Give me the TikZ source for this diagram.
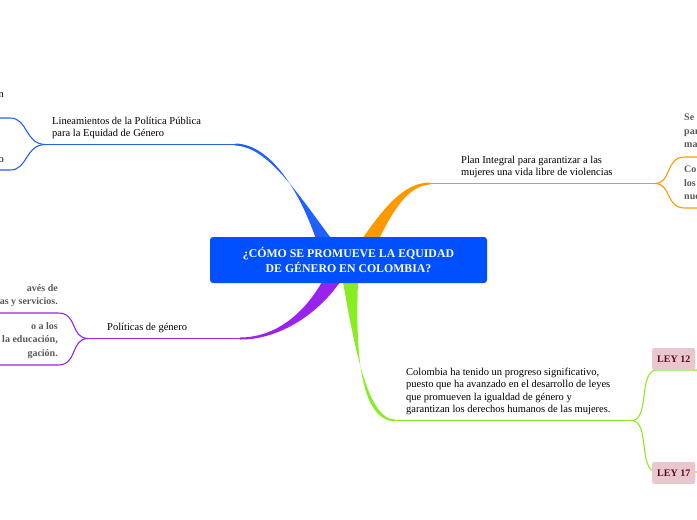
\documentclass[tikz,border=0pt]{standalone}
\usepackage{fontspec}
\setmainfont{Liberation Serif}
\begin{document}
\begin{tikzpicture}[x=1pt,y=-1pt,
  lbl/.style={font=\fontsize{10.5}{12.5}\selectfont,align=left,inner sep=0pt},
  cut/.style={lbl,font=\bfseries\fontsize{10}{13.5}\selectfont,text=black!65},
  ley/.style={fill={rgb,255:red,232;green,200;blue,206},rounded corners=2pt,font=\bfseries\fontsize{10}{11}\selectfont,text={rgb,255:red,90;green,10;blue,30},inner sep=5pt,minimum height=22pt,anchor=west}]
\useasboundingbox (0,0) rectangle (697,520);
\clip (0,0) rectangle (697,520);
\definecolor{cb}{HTML}{2060FF}\definecolor{co}{HTML}{FF9900}
\definecolor{cg}{HTML}{88EE22}\definecolor{cp}{HTML}{9922EE}
\tikzset{br/.style={line width=1.1pt}}
% blue
\fill[cb] (318,245) .. controls (300,190) and (270,144) .. (235,143.5) -- (235,145.5) .. controls (268,147) and (295,190) .. (336,245) -- cycle;
\draw[cb,br] (235,144.5) -- (45,144.5) coordinate (bj);
\draw[cb,br] (bj) .. controls (25,144) and (28,118) .. (10,118) -- (0,118);
\draw[cb,br] (bj) .. controls (25,145) and (28,170) .. (10,170) -- (0,170);
% orange
\fill[co] (358,245) .. controls (385,205) and (405,182.5) .. (430,182.5) -- (430,184.5) .. controls (408,186) and (392,210) .. (374,250) -- cycle;
\draw[co,br] (430,183.5) -- (655,183.5) coordinate (oj);
\draw[co,br] (oj) .. controls (672,183) and (665,157) .. (685,157) -- (697,157);
\draw[co,br] (oj) .. controls (672,184) and (665,208) .. (685,208) -- (697,208);
% green
\fill[cg] (343,282) .. controls (355,350) and (368,419.5) .. (395,419.5) -- (395,421.5) .. controls (362,420) and (355,360) .. (358,282) -- cycle;
\draw[cg,br] (395,420.5) -- (632,420.5) coordinate (gj);
\draw[cg,br] (gj) .. controls (650,420) and (638,370) .. (657,370) -- (697,370);
\draw[cg,br] (gj) .. controls (650,421) and (638,472) .. (657,472) -- (697,472);
% purple
\fill[cp] (322,282) .. controls (300,320) and (270,337.5) .. (240,337.5) -- (240,339.5) .. controls (275,340) and (315,318) .. (340,282) -- cycle;
\draw[cp,br] (240,338.5) -- (88,338.5) coordinate (pj);
\draw[cp,br] (pj) .. controls (70,338) and (78,313) .. (58,313) -- (0,313);
\draw[cp,br] (pj) .. controls (70,339) and (78,365) .. (58,365) -- (0,365);
% center
\node[fill={rgb,255:red,0;green,80;blue,255},rounded corners=3pt,minimum width=277pt,minimum height=46pt,text=white,font=\bfseries\fontsize{11.8}{15}\selectfont,align=center] (c) at (348.5,260) {¿CÓMO SE PROMUEVE LA EQUIDAD\\DE GÉNERO EN COLOMBIA?};
% labels
\node[lbl,anchor=south west] (l1) at (52,139) {Lineamientos de la Política Pública\\para la Equidad de Género};
\node[lbl,anchor=south west] (l2) at (461,178) {Plan Integral para garantizar a las\\mujeres una vida libre de violencias};
\node[lbl,anchor=south west] (l3) at (406,415) {Colombia ha tenido un progreso significativo,\\puesto que ha avanzado en el desarrollo de leyes\\que promueven la igualdad de género y\\garantizan los derechos humanos de las mujeres.};
\node[lbl,anchor=south west] (l4) at (107,333) {Políticas de género};
\node[lbl,anchor=east] (a1) at (4,95) {n};
\node[lbl,anchor=east] (a2) at (4,160) {o};
\node[cut,anchor=north west] (r1) at (684,114) {Se\\par\\ma};
\node[cut,anchor=north west] (r2) at (684,166) {Co\\los\\nue};
\node[cut,anchor=north east,align=right] (p1) at (58,284) {avés de\\as y servicios.};
\node[cut,anchor=north east,align=right] (p2) at (58,322) {o a los\\ la educación,\\gación.};
\node[ley] (k1) at (652,359) {LEY 12};
\node[ley] (k2) at (652,473) {LEY 17};
\end{tikzpicture}
\end{document}
